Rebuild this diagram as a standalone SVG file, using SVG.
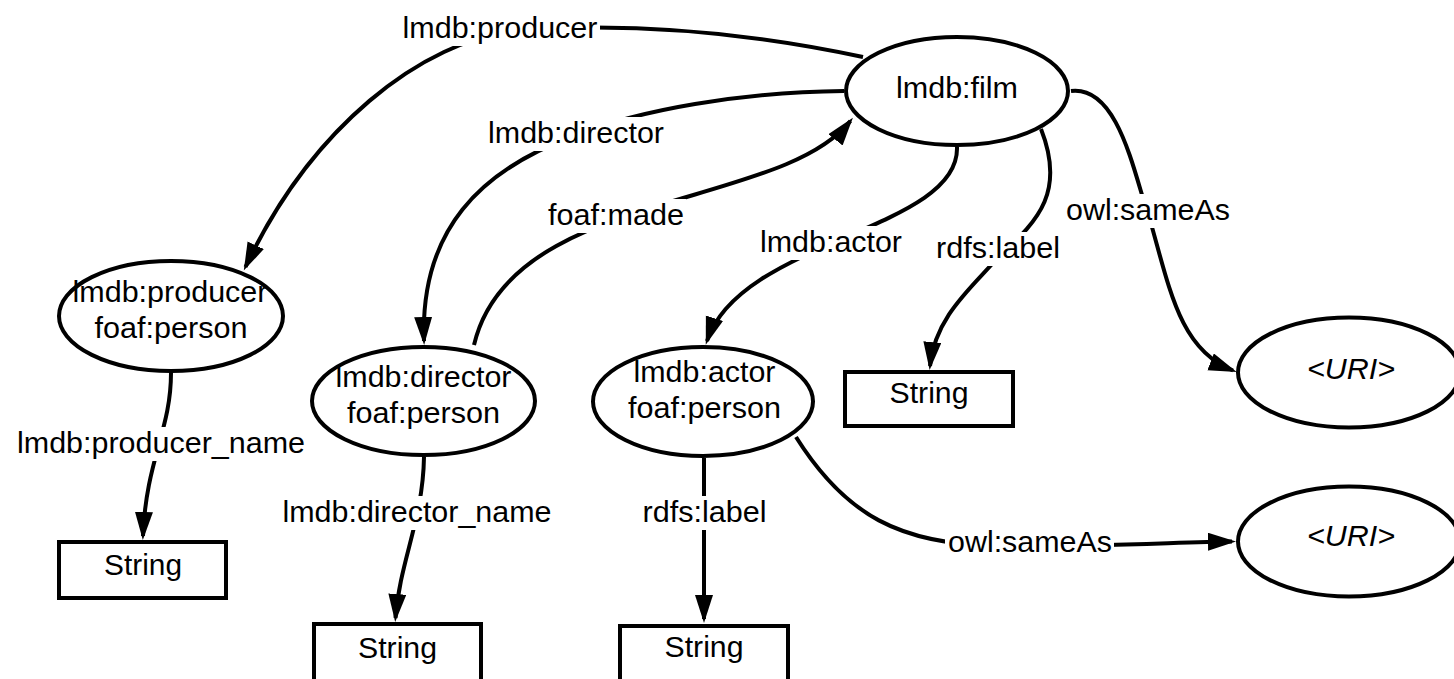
<svg xmlns="http://www.w3.org/2000/svg" width="1454" height="679" viewBox="0 0 1454 679">
  <defs>
    <marker id="arrow" markerUnits="userSpaceOnUse" markerWidth="29" markerHeight="19" refX="24" refY="9" orient="auto">
      <path d="M0,0 L28,9 L0,18 z" fill="#000"/>
    </marker>
    <style>
      text { font-family: "Liberation Sans", Arial, sans-serif; font-size: 29px; fill: #000; text-anchor: middle; }
      .edge { fill: none; stroke: #000; stroke-width: 4; marker-end: url(#arrow); }
      .lbg { fill: #fff; stroke: none; }
      .node { fill: #fff; stroke: #000; stroke-width: 4; }
      .uri { font-style: italic; }
    </style>
  </defs>

  <rect width="1454" height="679" fill="#fff"/>

  <!-- connectors -->
  <g id="connectors">
    <path class="edge" d="M863,57 C760,35 640,22 520,30 C420,40 310,130 245.5,267"/>
    <path class="edge" d="M844,91 C740,92 640,110 576,135 C480,170 420,230 424,341"/>
    <path class="edge" d="M474,345 C510,190 780,210 850.4,121"/>
    <path class="edge" d="M957,147 C960,230 740,240 707,341"/>
    <path class="edge" d="M1041,129 C1065,190 1040,220 1000,255 C975,285 935,315 930,366"/>
    <path class="edge" d="M1071,91 C1120,85 1135,180 1150,220 C1170,290 1180,350 1233,370.5"/>
    <path class="edge" d="M171,373 C171,430 146,460 143,536"/>
    <path class="edge" d="M424,457 C423,520 400,560 395.5,618"/>
    <path class="edge" d="M704,458 L704,619"/>
    <path class="edge" d="M796,437 C845,515 900,545 1000,546 C1100,547 1180,542 1232,541.5"/>

    <!-- edge labels -->
    <rect class="lbg" x="401" y="12" width="199" height="34"/>
    <text x="500" y="38" textLength="195" lengthAdjust="spacingAndGlyphs">lmdb:producer</text>

    <rect class="lbg" x="486" y="117" width="180" height="34"/>
    <text x="576" y="143" textLength="176" lengthAdjust="spacingAndGlyphs">lmdb:director</text>

    <rect class="lbg" x="546" y="199" width="140" height="34"/>
    <text x="616" y="225" textLength="136" lengthAdjust="spacingAndGlyphs">foaf:made</text>

    <rect class="lbg" x="758" y="226" width="146" height="34"/>
    <text x="831" y="252" textLength="142" lengthAdjust="spacingAndGlyphs">lmdb:actor</text>

    <rect class="lbg" x="935" y="232" width="126" height="34"/>
    <text x="998" y="258" textLength="124" lengthAdjust="spacingAndGlyphs">rdfs:label</text>

    <rect class="lbg" x="1064" y="194" width="168" height="34"/>
    <text x="1148" y="220" textLength="164" lengthAdjust="spacingAndGlyphs">owl:sameAs</text>

    <rect class="lbg" x="15" y="427" width="292" height="34"/>
    <text x="161" y="453" textLength="288" lengthAdjust="spacingAndGlyphs">lmdb:producer_name</text>

    <rect class="lbg" x="281" y="496" width="273" height="34"/>
    <text x="417" y="522" textLength="269" lengthAdjust="spacingAndGlyphs">lmdb:director_name</text>

    <rect class="lbg" x="641" y="496" width="127" height="34"/>
    <text x="704.5" y="522" textLength="124" lengthAdjust="spacingAndGlyphs">rdfs:label</text>

    <rect class="lbg" x="945" y="526" width="169" height="34"/>
    <text x="1030" y="552" textLength="164" lengthAdjust="spacingAndGlyphs">owl:sameAs</text>
  </g>

  <!-- nodes -->
  <g id="film">
    <ellipse class="node" cx="957" cy="91" rx="111" ry="54"/>
    <text x="957" y="98" textLength="122" lengthAdjust="spacingAndGlyphs">lmdb:film</text>
  </g>

  <g id="producer">
    <ellipse class="node" cx="171" cy="316" rx="112" ry="55"/>
    <text x="170" y="302" textLength="195" lengthAdjust="spacingAndGlyphs">lmdb:producer</text>
    <text x="171" y="338" textLength="153" lengthAdjust="spacingAndGlyphs">foaf:person</text>
  </g>

  <g id="director">
    <ellipse class="node" cx="423.5" cy="401" rx="111.5" ry="54"/>
    <text x="423.5" y="387" textLength="176" lengthAdjust="spacingAndGlyphs">lmdb:director</text>
    <text x="423.5" y="423" textLength="153" lengthAdjust="spacingAndGlyphs">foaf:person</text>
  </g>

  <g id="actor">
    <ellipse class="node" cx="703" cy="401.5" rx="110" ry="54.5"/>
    <text x="704.5" y="382" textLength="142" lengthAdjust="spacingAndGlyphs">lmdb:actor</text>
    <text x="704.5" y="418" textLength="153" lengthAdjust="spacingAndGlyphs">foaf:person</text>
  </g>

  <g id="film-label-string">
    <rect class="node" x="845" y="372" width="168" height="54"/>
    <text x="929" y="403" textLength="79" lengthAdjust="spacingAndGlyphs">String</text>
  </g>

  <g id="uri-film">
    <ellipse class="node" cx="1349" cy="372.5" rx="111" ry="55"/>
    <text class="uri" x="1351" y="379" textLength="88" lengthAdjust="spacingAndGlyphs">&lt;URI&gt;</text>
  </g>

  <g id="uri-actor">
    <ellipse class="node" cx="1349" cy="541.5" rx="111" ry="55"/>
    <text class="uri" x="1351" y="546" textLength="88" lengthAdjust="spacingAndGlyphs">&lt;URI&gt;</text>
  </g>

  <g id="producer-name-string">
    <rect class="node" x="59" y="542" width="167" height="56"/>
    <text x="143" y="575" textLength="78" lengthAdjust="spacingAndGlyphs">String</text>
  </g>

  <g id="director-name-string">
    <rect class="node" x="314" y="624" width="167" height="58"/>
    <text x="397.5" y="658" textLength="79" lengthAdjust="spacingAndGlyphs">String</text>
  </g>

  <g id="actor-label-string">
    <rect class="node" x="620" y="626" width="168" height="58"/>
    <text x="704" y="657" textLength="79" lengthAdjust="spacingAndGlyphs">String</text>
  </g>
</svg>
